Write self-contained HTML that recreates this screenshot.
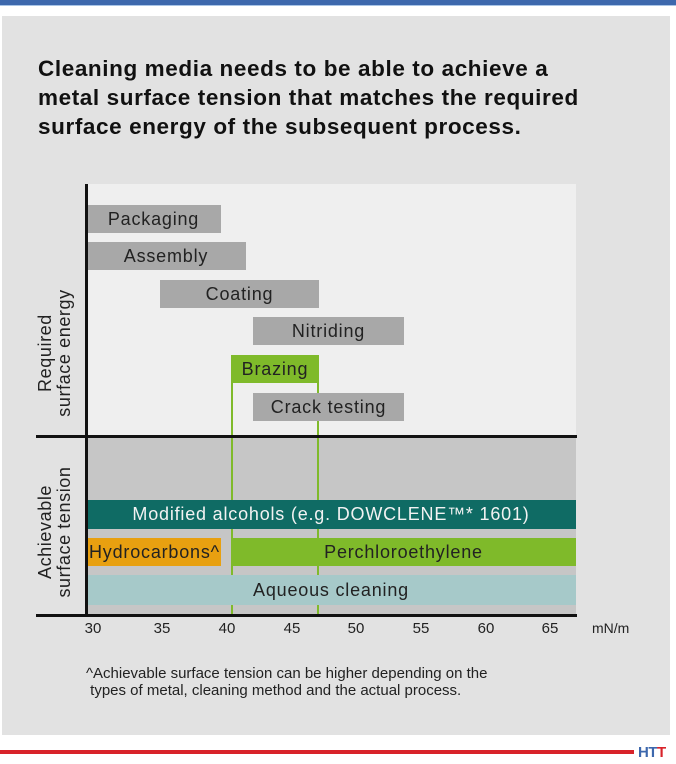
<!DOCTYPE html>
<html><head><meta charset="utf-8"><style>
*{margin:0;padding:0}
body{width:676px;height:764px;background:#fff;position:relative;overflow:hidden;font-family:"Liberation Sans",sans-serif}
div{position:absolute}
.b{color:#222;font-size:18px;letter-spacing:0.8px;text-align:center;line-height:28px;height:28px}
.t{font-size:15px;color:#222;width:40px;text-align:center;top:620px}
.r{transform:rotate(-90deg);white-space:nowrap;text-align:center;font-size:18px;line-height:19px;color:#222;letter-spacing:0.6px;width:170px;height:40px;margin-left:-85px;margin-top:-20px}
</style></head><body>
<div style="left:0;top:0;width:676px;height:5px;background:#3d68ad"></div>
<div style="left:0;top:5px;width:676px;height:1px;background:#a8c4e6"></div>
<div style="left:2px;top:16px;width:668px;height:719px;background:#e2e2e2"></div>
<div style="left:38px;top:54px;width:640px;white-space:nowrap;font-weight:bold;font-size:22.5px;line-height:29px;color:#111;letter-spacing:0.6px">Cleaning media needs to be able to achieve a<br>metal surface tension that matches the required<br>surface energy of the subsequent process.</div>
<div style="left:86px;top:184px;width:490px;height:252px;background:#efefef"></div>
<div style="left:86px;top:436px;width:490px;height:179px;background:#c6c6c6"></div>
<div style="left:231px;top:355px;width:2px;height:260px;background:#7fba2a"></div>
<div style="left:317px;top:355px;width:2px;height:260px;background:#7fba2a"></div>
<div class="b" style="left:86px;top:205px;width:135px;background:#a8a8a8">Packaging</div>
<div class="b" style="left:86px;top:242px;width:160px;background:#a8a8a8">Assembly</div>
<div class="b" style="left:160px;top:280px;width:159px;background:#a8a8a8">Coating</div>
<div class="b" style="left:253px;top:317px;width:151px;background:#a8a8a8">Nitriding</div>
<div class="b" style="left:231px;top:355px;width:88px;background:#7fba2a">Brazing</div>
<div class="b" style="left:253px;top:393px;width:151px;background:#a8a8a8">Crack testing</div>
<div class="b" style="left:86px;top:500px;width:490px;height:29px;background:#0f6b64;color:#f2f2f2">Modified alcohols (e.g. DOWCLENE™* 1601)</div>
<div class="b" style="left:86px;top:538px;width:135px;background:#e8a010;text-align:left;padding-left:3px;box-sizing:border-box">Hydrocarbons^</div>
<div class="b" style="left:231px;top:538px;width:345px;background:#7fba2a">Perchloroethylene</div>
<div class="b" style="left:86px;top:575px;width:490px;height:30px;line-height:30px;background:#a6c9c9">Aqueous cleaning</div>
<div style="left:85px;top:184px;width:3px;height:432px;background:#111"></div>
<div style="left:36px;top:435px;width:541px;height:3px;background:#111"></div>
<div style="left:36px;top:614px;width:541px;height:3px;background:#111"></div>
<div class="r" style="left:56px;top:353px">Required<br>surface energy</div>
<div class="r" style="left:56px;top:532px">Achievable<br>surface tension</div>
<div class="t" style="left:73px">30</div>
<div class="t" style="left:142px">35</div>
<div class="t" style="left:207px">40</div>
<div class="t" style="left:272px">45</div>
<div class="t" style="left:336px">50</div>
<div class="t" style="left:401px">55</div>
<div class="t" style="left:466px">60</div>
<div class="t" style="left:530px">65</div>
<div style="left:592px;top:620px;font-size:14px;color:#222">mN/m</div>
<div style="left:86px;top:665px;font-size:15px;line-height:17px;color:#222;white-space:nowrap">^Achievable surface tension can be higher depending on the<br>&nbsp;types of metal, cleaning method and the actual process.</div>
<div style="left:0;top:750px;width:634px;height:4px;background:#d8232a"></div>
<div style="left:638px;top:744px;font-size:15px;font-weight:bold;color:#3d68ad;letter-spacing:-0.5px">HT<span style="color:#d8232a">T</span></div>
</body></html>
